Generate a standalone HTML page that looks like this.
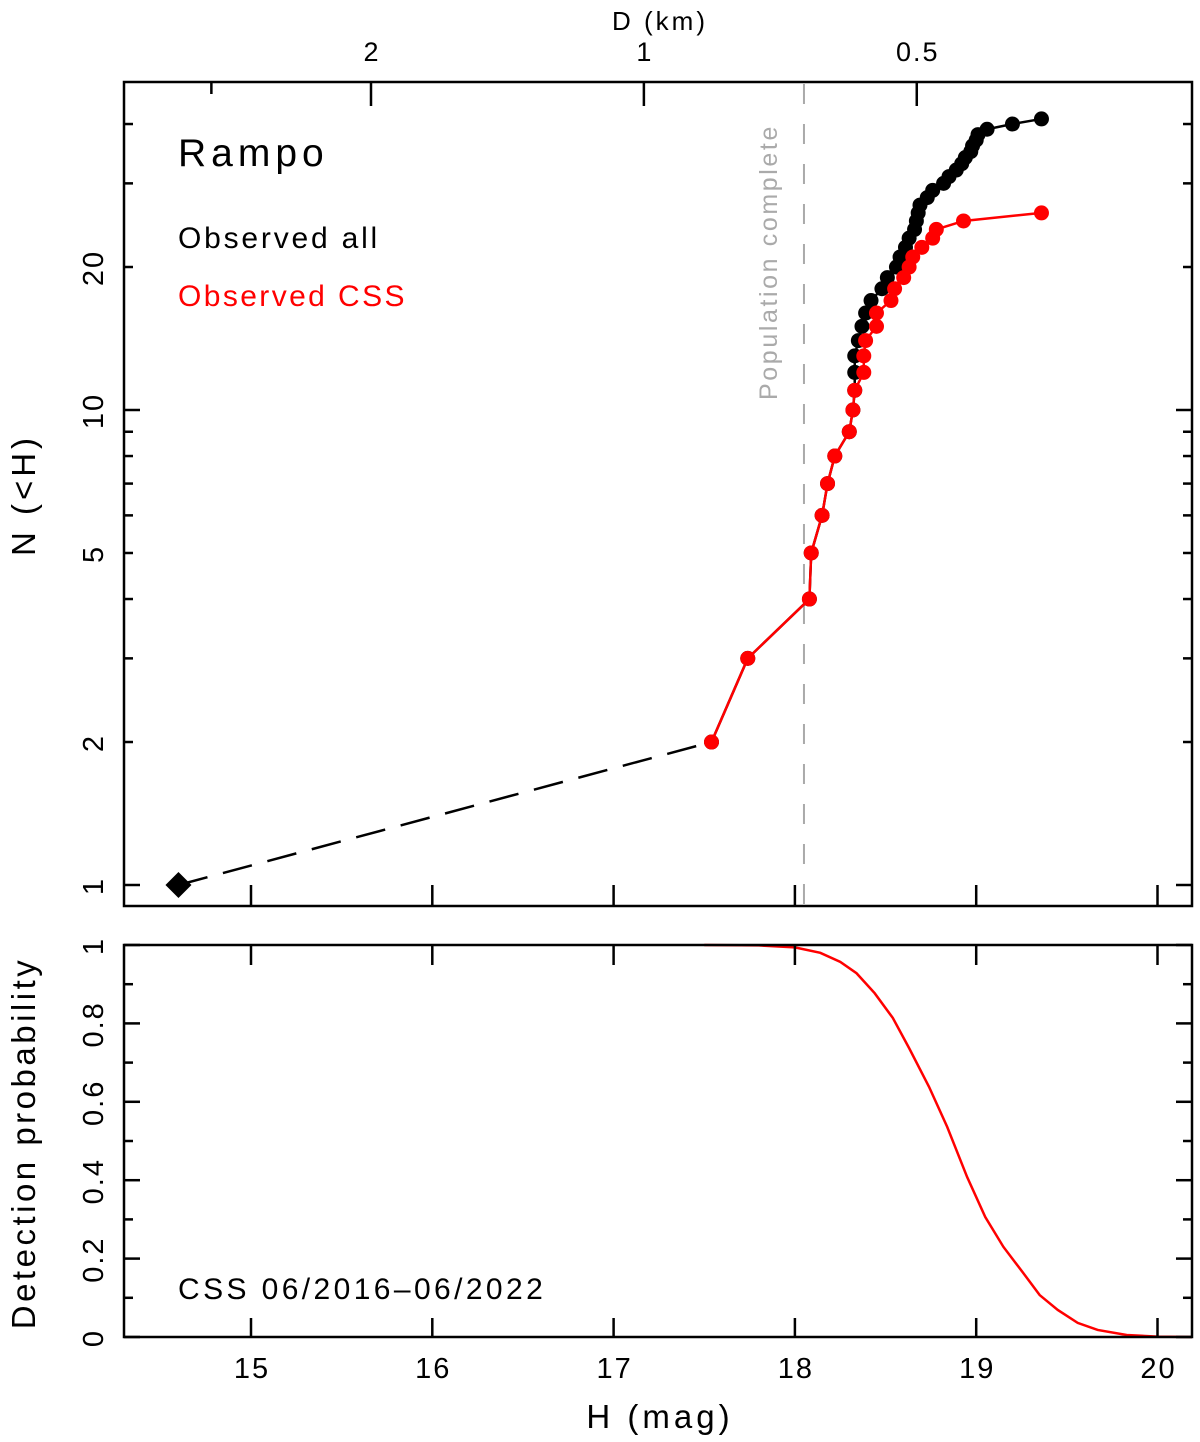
<!DOCTYPE html>
<html><head><meta charset="utf-8"><style>
html,body{margin:0;padding:0;background:#fff;}
svg{display:block;font-family:"Liberation Sans",sans-serif;}
</style></head><body>
<svg id="chart" width="1200" height="1442" viewBox="0 0 1200 1442" xmlns="http://www.w3.org/2000/svg"></svg>
<script>
// ---- data ----
const redH = [17.54,17.74,18.08,18.09,18.15,18.18,18.22,18.30,18.32,18.33,18.38,18.38,18.39,18.45,18.45,18.53,18.55,18.60,18.63,18.65,18.70,18.76,18.78,18.93,19.36];
const redN = [2,3,4,5,6,7,8,9,10,11,12,13,14,15,16,17,18,19,20,21,22,23,24,25,26];
const blackH = [17.54,17.74,18.08,18.09,18.15,18.18,18.22,18.30,18.32,18.33,18.33,18.33,18.35,18.37,18.39,18.42,18.48,18.51,18.56,18.58,18.61,18.63,18.66,18.67,18.68,18.69,18.73,18.76,18.82,18.85,18.89,18.92,18.94,18.97,18.98,19.00,19.01,19.06,19.20,19.36];
const blackN = [2,3,4,5,6,7,8,9,10,11,12,13,14,15,16,17,18,19,20,21,22,23,24,25,26,27,28,29,30,31,32,33,34,35,36,37,38,39,40,41];
const brightH = [14.6];
const brightN = [1];
const completeH = [18.05];
const probH = [17.5,17.8,18.0,18.14,18.25,18.34,18.44,18.54,18.63,18.74,18.84,18.95,19.05,19.15,19.26,19.35,19.45,19.56,19.67,19.83,20.0,20.2];
const probP = [1,0.999,0.994,0.98,0.957,0.928,0.877,0.814,0.737,0.638,0.536,0.408,0.306,0.230,0.163,0.107,0.069,0.036,0.018,0.005,0.001,0];
const xTicks = [15,16,17,18,19,20];
const nTickLabels = [1,2,5,10,20];
const nMinor = [2,3,4,5,6,7,8,9,20,30,40];
const nMajor = [1,10];
const pTickLabels = [0,0.2,0.4,0.6,0.8,1];
const dTicks = [3,2,1,0.5];
const dLabels = [2,1,0.5];

// ---- scales ----
const X0=124,X1=1192;
const xs = h => 251 + (h-15)*181.3;
const yN = n => 885 - Math.log10(n)*475;
const yP = p => 1337 - p*392;
const svg=document.getElementById('chart');
const NS='http://www.w3.org/2000/svg';
function mk(tag,attrs,parent){const e=document.createElementNS(NS,tag);for(const k in attrs)e.setAttribute(k,attrs[k]);(parent||svg).appendChild(e);return e;}
function txt(s,x,y,size,attrs){const e=mk('text',Object.assign({x:x,y:y,'font-size':size,'text-anchor':'middle'},attrs||{}));e.textContent=s;return e;}

const pc=mk('polyline',{points:probH.map((h,i)=>Math.min(Math.max(xs(h),X0),X1)+','+yP(probP[i])).join(' '),fill:'none',stroke:'#f00','stroke-width':2.5});



const f1=mk('rect',{x:X0,y:82,width:X1-X0,height:824,fill:'none',stroke:'#000','stroke-width':2.5});


const f2=mk('rect',{x:X0,y:945,width:X1-X0,height:392,fill:'none',stroke:'#000','stroke-width':2.5});



xTicks.forEach(h=>{
  const x=xs(h);
  [[885,906],[945,965],[1318,1337]].forEach(([a,b])=>mk('line',{x1:x,x2:x,y1:a,y2:b,stroke:'#000','stroke-width':2.5}));
  const t=txt(String(h),x+1,1378,29,{'letter-spacing':2});
  
  
});
const hOfD = d => 15 + (371-251)/181.3 + 5*Math.log10(2/d);
dTicks.forEach(d=>{
  const x=xs(hOfD(d));
  mk('line',{x1:x,x2:x,y1:82,y2:d===3?94:106,stroke:'#000','stroke-width':2.5});
});
dLabels.forEach(d=>{
  const t=txt(String(d),xs(hOfD(d))+1,61,27,{'letter-spacing':2});
  
  
});
nMajor.forEach(n=>{const y=yN(n);mk('line',{x1:X0,x2:X0+16,y1:y,y2:y,stroke:'#000','stroke-width':2.5});mk('line',{x1:X1-16,x2:X1,y1:y,y2:y,stroke:'#000','stroke-width':2.5});});
nMinor.forEach(n=>{const y=yN(n);mk('line',{x1:X0,x2:X0+9,y1:y,y2:y,stroke:'#000','stroke-width':2.5});mk('line',{x1:X1-9,x2:X1,y1:y,y2:y,stroke:'#000','stroke-width':2.5});});
nTickLabels.forEach(n=>{
  const y=yN(n);
  const t=txt(String(n),0,0,29,{'letter-spacing':2,transform:`translate(103,${y+1}) rotate(-90)`});
  
  
});
for(let i=0;i<=10;i++){const p=i/10,y=yP(p),L=(i%2===0)?16:9;
  mk('line',{x1:X0,x2:X0+L,y1:y,y2:y,stroke:'#000','stroke-width':2.5});
  mk('line',{x1:X1-L,x2:X1,y1:y,y2:y,stroke:'#000','stroke-width':2.5});}
pTickLabels.forEach(p=>{
  const t=txt(String(p),0,0,29,{'letter-spacing':2,transform:`translate(103,${yP(p)+1}) rotate(-90)`});
  
  
});

const cl=mk('line',{x1:xs(completeH[0]),x2:xs(completeH[0]),y1:84,y2:904,stroke:'#aaa','stroke-width':2,'stroke-dasharray':'20,20'});


const ct=txt('Population complete',0,0,25,{fill:'#aaa','letter-spacing':2.6,transform:`translate(777,262) rotate(-90)`});



const dl=mk('line',{x1:xs(brightH[0]),y1:yN(brightN[0]),x2:xs(redH[0]),y2:yN(redN[0]),stroke:'#000','stroke-width':2.5,'stroke-dasharray':'30,16'});



const bl=mk('polyline',{points:blackH.map((h,i)=>xs(h)+','+yN(blackN[i])).join(' '),fill:'none',stroke:'#000','stroke-width':2.5});


blackH.forEach((h,i)=>{
  const c=mk('circle',{cx:xs(h),cy:yN(blackN[i]),r:7.5,fill:'#000'});
  
  
});
const rl=mk('polyline',{points:redH.map((h,i)=>xs(h)+','+yN(redN[i])).join(' '),fill:'none',stroke:'#f00','stroke-width':2.5});


redH.forEach((h,i)=>{
  const c=mk('circle',{cx:xs(h),cy:yN(redN[i]),r:7.5,fill:'#f00'});
  
  
});
brightH.forEach((h,i)=>{
  const x=xs(h),y=yN(brightN[i]);
  const d=mk('polygon',{points:`${x},${y-13} ${x+13},${y} ${x},${y+13} ${x-13},${y}`,fill:'#000'});
  
  
});

const lbls=[
 ['Rampo',178,166,39,'#000','start',5,'object-name'],
 ['Observed all',178,248,30,'#000','start',2.8,'legend-observed-all'],
 ['Observed CSS',178,306,30,'#f00','start',2.4,'legend-observed-css'],
 ['CSS 06/2016\u201306/2022',178,1299,30,'#000','start',3.4,'survey-label'],
 ['H (mag)',660,1428,33,'#000','middle',4,'x-axis-title'],
 ['D (km)',660,30,26,'#000','middle',3,'top-axis-title']
];
lbls.forEach(([s,x,y,fs,col,anc,ls,name])=>{
  const t=txt(s,x,y,fs,{fill:col,'text-anchor':anc,'letter-spacing':ls});
  
  
});
const yt=txt('N (<H)',0,0,33,{'letter-spacing':4,transform:'translate(35,495) rotate(-90)'});


const pt=txt('Detection probability',0,0,33,{'letter-spacing':3.5,transform:'translate(35,1143) rotate(-90)'});


</script>
</body></html>
